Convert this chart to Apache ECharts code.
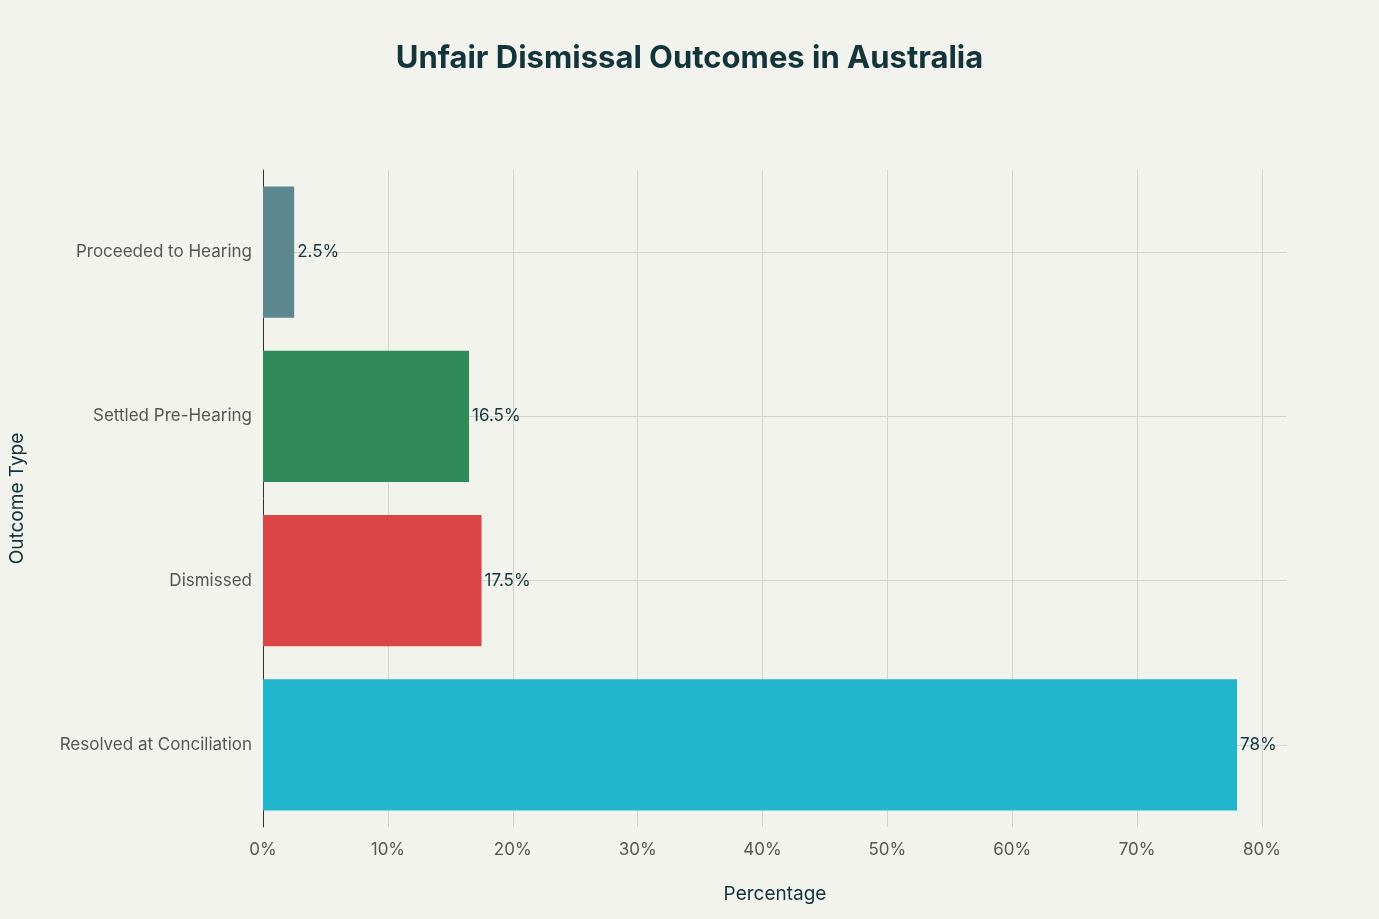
<!DOCTYPE html>
<html><head><meta charset="utf-8">
<script src="https://cdn.jsdelivr.net/npm/echarts@6/dist/echarts.min.js"></script>
<style>html,body{margin:0;background:#F3F3EE}#c{width:1379px;height:919px}</style>
</head><body><div id="c"></div>
<script>
const categories = ["Resolved at Conciliation","Dismissed","Settled Pre-Hearing","Proceeded to Hearing"];
const values = [78, 17.5, 16.5, 2.5];
const colors = ["#21B6CC","#DB4545","#2E8B57","#5D878F"];
const chart = echarts.init(document.getElementById('c'));
chart.setOption({
  backgroundColor:'#F3F3EE',
  textStyle:{fontFamily:'Inter, sans-serif'},
  title:{text:'Unfair Dismissal Outcomes in Australia',left:'center',top:38,
    textStyle:{fontSize:31,fontWeight:'bold',color:'#13343B',fontFamily:'Inter, sans-serif'}},
  grid:{left:263,right:92,top:170,bottom:92,containLabel:false,outerBoundsMode:'none'},
  xAxis:{type:'value',min:0,max:82,interval:10,
    name:'Percentage',nameLocation:'middle',nameGap:58,
    nameTextStyle:{fontSize:19,color:'#13343B'},
    axisLabel:{formatter:'{value}%',fontSize:17,color:'#555',margin:14,showMaxLabel:false},
    axisLine:{show:false},axisTick:{show:false},
    splitLine:{showMaxLine:false,lineStyle:{color:'#D4D4D0'}}},
  yAxis:{type:'category',data:categories,
    name:'Outcome Type',nameLocation:'middle',nameGap:236,
    nameTextStyle:{fontSize:19,color:'#13343B'},
    axisLabel:{fontSize:17,color:'#555',margin:11},
    axisLine:{lineStyle:{color:'#333'}},axisTick:{show:false},
    splitLine:{show:false}},
  series:[{type:'bar',barCategoryGap:'20%',z:3,
    data:values.map((v,i)=>({value:v,itemStyle:{color:colors[i]}})),
    label:{show:true,position:'right',distance:3,formatter:p=>p.value+'%',fontSize:17,color:'#13343B'},
    markLine:{silent:true,symbol:'none',z:1,label:{show:false},
      lineStyle:{type:'solid',color:'#D4D4D0',width:1},
      data:categories.map(c=>({yAxis:c}))}}]
});
</script></body></html>
